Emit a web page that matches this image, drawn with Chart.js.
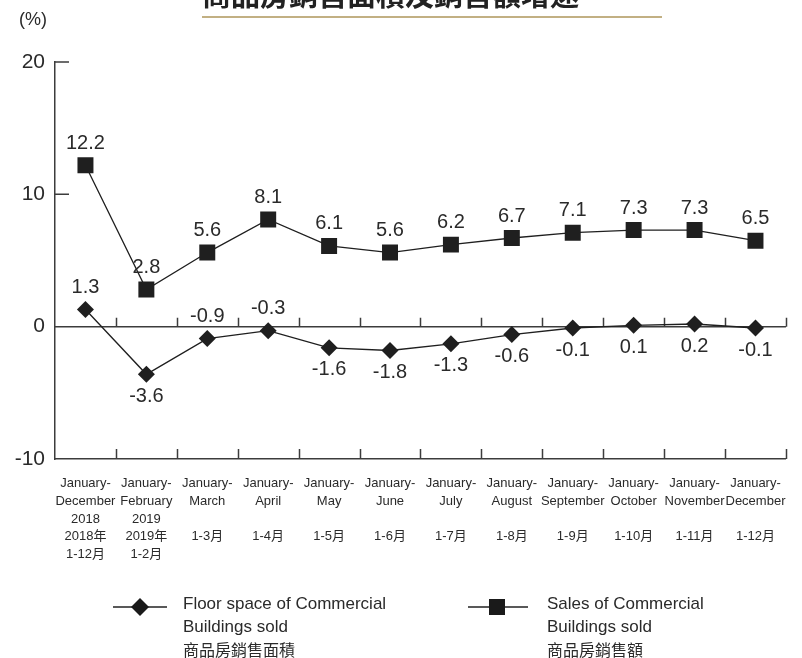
<!DOCTYPE html>
<html>
<head>
<meta charset="utf-8">
<script src="https://cdn.jsdelivr.net/npm/chart.js@4.4.1/dist/chart.umd.min.js"></script>
<style>
  html, body { margin: 0; padding: 0; background: #fff; }
  #wrap { position: relative; width: 802px; height: 658px; overflow: hidden; font-family: "Liberation Sans", Arial, "Noto Sans CJK TC", sans-serif; color: #2a2a2a; }
  #chart { position: absolute; left: 0; top: 0; }
  #title { position: absolute; left: 202px; top: -21px; white-space: nowrap; font: bold 29px "Noto Sans CJK TC", sans-serif; line-height: 29px; color: #222; }
  #rule { position: absolute; left: 202px; width: 460px; top: 16px; height: 1.5px; background: #c2b083; }
  #unit { position: absolute; left: 19px; top: 9px; font-size: 18px; }
  .legend { position: absolute; top: 592px; font-size: 17px; line-height: 23px; }
  .legend svg { position: absolute; top: 3px; }
  .legend .txt { position: absolute; white-space: nowrap; }
  .legend .zh { font-family: "Noto Sans CJK TC", sans-serif; font-size: 16px; }
</style>
</head>
<body>
<div id="wrap">
  <canvas id="chart" width="802" height="658"></canvas>
  <div id="title">商品房銷售面積及銷售額增速</div>
  <div id="rule"></div>
  <div id="unit">(%)</div>
  <div class="legend" style="left:113px">
    <svg width="54" height="24"><line x1="0" y1="12" x2="54" y2="12" stroke="#222" stroke-width="1.4"/><polygon points="27,3 36,12 27,21 18,12" fill="#1a1a1a"/></svg>
    <div class="txt" style="left:70px">Floor space of Commercial<br>Buildings sold<br><span class="zh">商品房銷售面積</span></div>
  </div>
  <div class="legend" style="left:468px">
    <svg width="60" height="24"><line x1="0" y1="12" x2="60" y2="12" stroke="#222" stroke-width="1.4"/><rect x="21" y="4" width="16" height="16" fill="#1a1a1a"/></svg>
    <div class="txt" style="left:79px">Sales of Commercial<br>Buildings sold<br><span class="zh">商品房銷售額</span></div>
  </div>
</div>
<script>
const months = [
    ['January-', 'December', '2018', '2018年', '1-12月'],
    ['January-', 'February', '2019', '2019年', '1-2月'],
    ['January-', 'March', '', '1-3月', ''],
    ['January-', 'April', '', '1-4月', ''],
    ['January-', 'May', '', '1-5月', ''],
    ['January-', 'June', '', '1-6月', ''],
    ['January-', 'July', '', '1-7月', ''],
    ['January-', 'August', '', '1-8月', ''],
    ['January-', 'September', '', '1-9月', ''],
    ['January-', 'October', '', '1-10月', ''],
    ['January-', 'November', '', '1-11月', ''],
    ['January-', 'December', '', '1-12月', ''],
];

const floorSpace = [1.3, -3.6, -0.9, -0.3, -1.6, -1.8, -1.3, -0.6, -0.1, 0.1, 0.2, -0.1];
const salesValue = [12.2, 2.8, 5.6, 8.1, 6.1, 5.6, 6.2, 6.7, 7.1, 7.3, 7.3, 6.5];

// where each value label sits: 1 = above the point, -1 = below
const floorLabelSide = [1, -1, 1, 1, -1, -1, -1, -1, -1, -1, -1, -1];
const salesLabelSide = [1, 1, 1, 1, 1, 1, 1, 1, 1, 1, 1, 1];

const yTicks = [-10, 0, 10, 20];

const inkColor = '#1f1f1f';
const axisColor = '#3c3c3c';
const textColor = '#2a2a2a';

// zero line plus the small upward ticks between categories and the inner y ticks
const axisMarks = {
    id: 'axisMarks',
    beforeDatasetsDraw(chart) {
        const { ctx, chartArea: area, scales: { x, y } } = chart;
        const half = (x.getPixelForValue(1) - x.getPixelForValue(0)) / 2;
        const zeroY = y.getPixelForValue(0);

        ctx.save();
        ctx.strokeStyle = axisColor;
        ctx.lineWidth = 1.5;
        ctx.beginPath();
        ctx.moveTo(area.left, zeroY);
        ctx.lineTo(area.right, zeroY);

        for (let i = 0; i < months.length; i++) {
            const bx = Math.round(x.getPixelForValue(i) + half) + 0.5;
            ctx.moveTo(bx, zeroY);
            ctx.lineTo(bx, zeroY - 9);
            ctx.moveTo(bx, area.bottom);
            ctx.lineTo(bx, area.bottom - 10);
        }

        [10, 20].forEach((v) => {
            const ty = y.getPixelForValue(v);
            ctx.moveTo(area.left, ty);
            ctx.lineTo(area.left + 14, ty);
        });
        ctx.stroke();
        ctx.restore();
    },
};

const valueLabels = {
    id: 'valueLabels',
    afterDatasetsDraw(chart) {
        const { ctx } = chart;
        const sides = [floorLabelSide, salesLabelSide];

        ctx.save();
        ctx.font = '20px "Liberation Sans", Arial, sans-serif';
        ctx.fillStyle = textColor;
        ctx.textAlign = 'center';
        ctx.textBaseline = 'middle';

        chart.data.datasets.forEach((dataset, di) => {
            const meta = chart.getDatasetMeta(di);
            meta.data.forEach((point, i) => {
                const side = sides[di][i];
                const offset = side > 0 ? -22 : 22;
                ctx.fillText(dataset.data[i].toFixed(1), point.x, point.y + offset);
            });
        });
        ctx.restore();
    },
};

new Chart(document.getElementById('chart'), {
    type: 'line',
    data: {
        labels: months,
        datasets: [
            {
                label: 'Floor space of Commercial Buildings sold',
                data: floorSpace,
                borderColor: inkColor,
                borderWidth: 1.3,
                pointStyle: 'rectRot',
                pointRadius: 8.5,
                pointBackgroundColor: inkColor,
                pointBorderWidth: 0,
                tension: 0,
            },
            {
                label: 'Sales of Commercial Buildings sold',
                data: salesValue,
                borderColor: inkColor,
                borderWidth: 1.3,
                pointStyle: 'rect',
                pointRadius: 11.3,
                pointBackgroundColor: inkColor,
                pointBorderWidth: 0,
                tension: 0,
            },
        ],
    },
    options: {
        responsive: false,
        animation: false,
        events: [],
        layout: { padding: { top: 62, right: 13, left: 0, bottom: 0 } },
        plugins: {
            legend: { display: false },
            tooltip: { enabled: false },
        },
        scales: {
            x: {
                offset: true,
                grid: { display: false, drawTicks: false },
                border: { display: true, color: axisColor, width: 1.5 },
                ticks: {
                    color: textColor,
                    font: { size: 13, family: '"Liberation Sans", Arial, "Noto Sans CJK TC", sans-serif', lineHeight: 1.36 },
                    padding: 16,
                    maxRotation: 0,
                    autoSkip: false,
                },
                afterFit(scale) {
                    scale.height = 199;
                },
            },
            y: {
                min: -10,
                max: 20,
                afterBuildTicks(scale) {
                    scale.ticks = yTicks.map((value) => ({ value }));
                },
                grid: { display: false, drawTicks: false },
                border: { display: true, color: axisColor, width: 1.5 },
                ticks: {
                    color: textColor,
                    font: { size: 21, family: '"Liberation Sans", Arial, sans-serif' },
                    padding: 10,
                },
                afterFit(scale) {
                    scale.width = 55;
                },
            },
        },
    },
    plugins: [axisMarks, valueLabels],
});
</script>
</body>
</html>
